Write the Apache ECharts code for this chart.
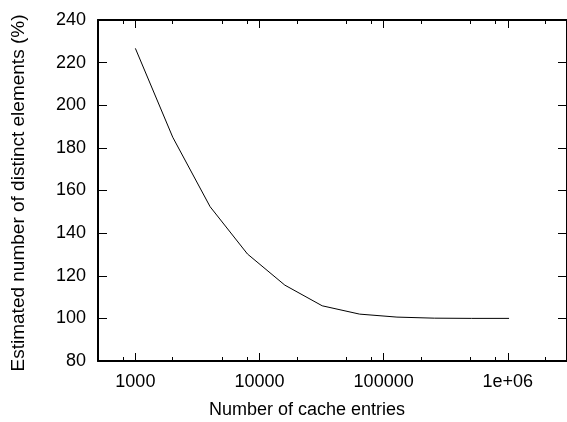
<!DOCTYPE html>
<html>
<head>
<meta charset="utf-8">
<script src="https://cdn.jsdelivr.net/npm/echarts@6/dist/echarts.min.js"></script>
<style>
html,body{margin:0;padding:0;background:#fff;}
#chart{width:567px;height:422px;}
</style>
</head>
<body>
<div id="chart"></div>
<script>
// Data
const cacheEntries = [1000, 2000, 4000, 8000, 16000, 32000, 64000, 128000, 256000, 512000, 1024000];
const estimatedPct = [226.7, 185.0, 152.4, 130.2, 115.6, 105.9, 102.0, 100.6, 100.1, 100.0, 100.0];
const xMajorTicks = [1000, 10000, 100000, 1000000];
const xMajorLabels = ['1000', '10000', '100000', '1e+06'];
const xMinorTicks = [800, 2000, 5000, 8000, 20000, 50000, 80000, 200000, 500000, 800000, 2000000];
const xTitle = 'Number of cache entries';
const yTitle = 'Estimated number of distinct elements (%)';

const FONT = 'Liberation Sans, Arial, Helvetica, sans-serif';
const chart = echarts.init(document.getElementById('chart'), null, {renderer: 'canvas'});

const xBase = {
  type: 'log', logBase: 10, min: 500, max: 3000000, gridIndex: 0,
  splitLine: {show: false}, minorTick: {show: false}, minorSplitLine: {show: false}
};
function labelFor(v) {
  for (let i = 0; i < xMajorTicks.length; i++) {
    if (Math.abs(v - xMajorTicks[i]) / xMajorTicks[i] < 1e-6) return xMajorLabels[i];
  }
  return '';
}

chart.setOption({
  animation: false,
  backgroundColor: '#fff',
  grid: {left: 98, top: 20, width: 472, height: 341, containLabel: false},
  xAxis: [
    Object.assign({}, xBase, {
      position: 'bottom',
      axisLine: {show: true, onZero: false, lineStyle: {color: '#000', width: 2}},
      axisTick: {show: true, inside: true, length: 8, lineStyle: {color: '#000', width: 1}, customValues: xMajorTicks},
      axisLabel: {show: true, margin: 12, color: '#000', fontSize: 18, fontFamily: FONT,
        customValues: xMajorTicks, formatter: labelFor}
    }),
    Object.assign({}, xBase, {
      position: 'bottom',
      axisLine: {show: false, onZero: false},
      axisTick: {show: true, inside: true, length: 4, lineStyle: {color: '#000', width: 1}, customValues: xMinorTicks},
      axisLabel: {show: false}
    }),
    Object.assign({}, xBase, {
      position: 'top',
      axisLine: {show: true, onZero: false, lineStyle: {color: '#000', width: 2}},
      axisTick: {show: true, inside: true, length: 8, lineStyle: {color: '#000', width: 1}, customValues: xMajorTicks},
      axisLabel: {show: false}
    }),
    Object.assign({}, xBase, {
      position: 'top',
      axisLine: {show: false, onZero: false},
      axisTick: {show: true, inside: true, length: 4, lineStyle: {color: '#000', width: 1}, customValues: xMinorTicks},
      axisLabel: {show: false}
    })
  ],
  yAxis: [
    {
      type: 'value', min: 80, max: 240, interval: 20, position: 'left',
      splitLine: {show: false},
      axisLine: {show: true, onZero: false, lineStyle: {color: '#000', width: 2}},
      axisTick: {show: true, inside: true, length: 9, lineStyle: {color: '#000', width: 1}},
      axisLabel: {show: true, margin: 12, color: '#000', fontSize: 18, fontFamily: FONT}
    },
    {
      type: 'value', min: 80, max: 240, interval: 20, position: 'right',
      splitLine: {show: false},
      axisLine: {show: true, onZero: false, lineStyle: {color: '#000', width: 2}},
      axisTick: {show: true, inside: true, length: 9, lineStyle: {color: '#000', width: 1}},
      axisLabel: {show: false}
    }
  ],
  series: [{
    type: 'line',
    xAxisIndex: 0, yAxisIndex: 0,
    data: cacheEntries.map((x, i) => [x, estimatedPct[i]]),
    symbol: 'none',
    smooth: false,
    lineStyle: {color: '#000', width: 1}
  }],
  graphic: [
    {type: 'text', x: 307, y: 410, style: {text: xTitle, fill: '#000', font: '18px ' + FONT, align: 'center', verticalAlign: 'middle'}},
    {type: 'text', x: 19, y: 193, rotation: Math.PI / 2, style: {text: yTitle, fill: '#000', font: '19px ' + FONT, align: 'center', verticalAlign: 'middle'}}
  ]
});
</script>
</body>
</html>
